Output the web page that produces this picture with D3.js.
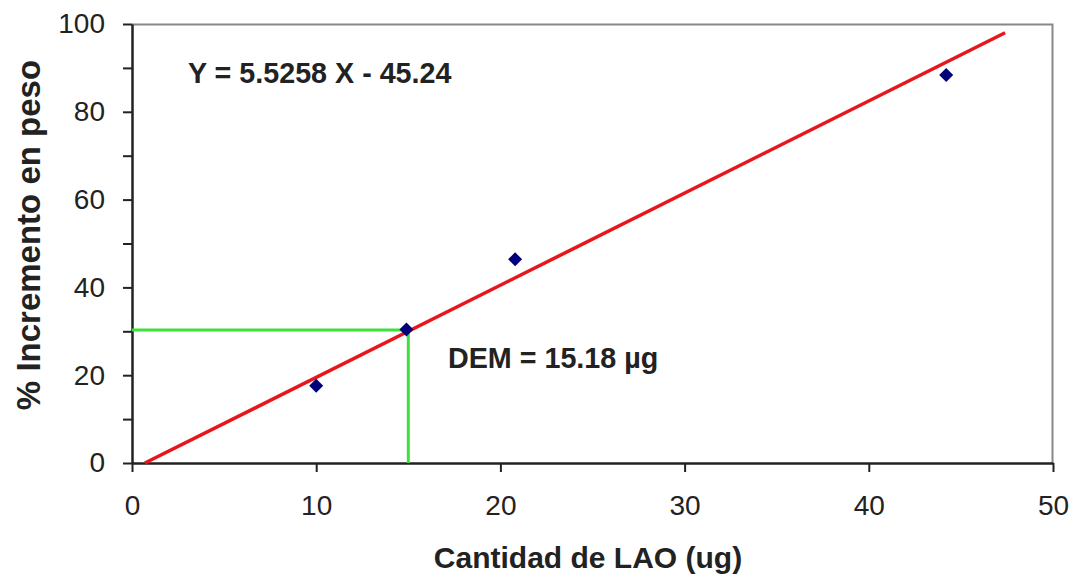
<!DOCTYPE html>
<html>
<head>
<meta charset="utf-8">
<script src="https://cdn.jsdelivr.net/npm/d3@7"></script>
<style>
  body { margin: 0; background: #fff; }
  text { font-family: "Liberation Sans", Arial, sans-serif; fill: #222; }
</style>
</head>
<body>
<div id="chart"></div>
<script>
// data
var cantidad = [10.0, 14.9, 20.8, 44.2];
var incremento = [17.6, 30.4, 46.4, 88.4];
var lineX = [0.7, 47.4];
var lineY = [0, 98.0];
var demX = 15.0;
var demY = 30.3;
var xTicks = [0, 10, 20, 30, 40, 50];
var yTicks = [0, 20, 40, 60, 80, 100];
var yMinor = [10, 30, 50, 70, 90];

var svgWidth = 1076;
var svgHeight = 578;
var margin = { top: 24, right: 23, bottom: 115, left: 132 };
var chart_width = svgWidth - margin.left - margin.right;
var chart_height = svgHeight - margin.top - margin.bottom;

var svg = d3.select("#chart").append("svg")
    .attr("width", svgWidth)
    .attr("height", svgHeight);

var chartGroup = svg.append("g")
    .attr("transform", `translate(${margin.left}, ${margin.top})`);

var xScale = d3.scaleLinear().domain([0, 50]).range([0, chart_width]);
var yScale = d3.scaleLinear().domain([0, 100]).range([chart_height, 0]);

// grey frame top / right
chartGroup.append("path")
    .attr("d", `M0,0.5H${chart_width - 0.5}V${chart_height}`)
    .attr("fill", "none")
    .attr("stroke", "#888")
    .attr("stroke-width", 2);

// minor y ticks
chartGroup.append("g")
    .call(d3.axisLeft(yScale).tickValues(yMinor).tickSize(9).tickFormat(""))
    .call(g => g.select(".domain").remove())
    .selectAll("line").attr("stroke", "#222").attr("stroke-width", 2);

var leftAxis = chartGroup.append("g")
    .call(d3.axisLeft(yScale).tickValues(yTicks).tickSize(9).tickSizeOuter(0).tickPadding(18));

var bottomAxis = chartGroup.append("g")
    .attr("transform", `translate(0, ${chart_height})`)
    .call(d3.axisBottom(xScale).tickValues(xTicks).tickSize(9).tickSizeOuter(0).tickPadding(23));

[leftAxis, bottomAxis].forEach(function(ax) {
    ax.select(".domain").attr("stroke", "#222").attr("stroke-width", 2.5);
    ax.selectAll(".tick line").attr("stroke", "#222").attr("stroke-width", 2);
    ax.selectAll(".tick text")
        .attr("font-size", 28)
        .attr("font-family", "'Liberation Sans', Arial, sans-serif")
        .attr("fill", "#222");
});

// green guide lines
chartGroup.append("path")
    .attr("d", `M0,${yScale(demY)}H${xScale(demX)}V${yScale(0)}`)
    .attr("fill", "none")
    .attr("stroke", "#3ee03a")
    .attr("stroke-width", 3);

// regression line
chartGroup.append("line")
    .attr("x1", xScale(lineX[0]))
    .attr("y1", yScale(lineY[0]))
    .attr("x2", xScale(lineX[1]))
    .attr("y2", yScale(lineY[1]))
    .attr("stroke", "#e8161a")
    .attr("stroke-width", 3.5);

// points
var pts = cantidad.map((c, i) => ({ x: c, y: incremento[i] }));
chartGroup.append("g")
    .selectAll("path")
    .data(pts)
    .enter()
    .append("path")
    .attr("d", "M0,-7L7,0L0,7L-7,0Z")
    .attr("transform", d => `translate(${xScale(d.x)}, ${yScale(d.y)})`)
    .attr("fill", "#00007a");

// annotations
chartGroup.append("text")
    .attr("x", 56)
    .attr("y", 59)
    .attr("font-size", 28.7)
    .attr("font-weight", "bold")
    .text("Y = 5.5258 X - 45.24");

chartGroup.append("text")
    .attr("x", 316)
    .attr("y", 344)
    .attr("font-size", 28.7)
    .attr("font-weight", "bold")
    .text("DEM = 15.18 µg");

// axis titles
svg.append("text")
    .attr("transform", `translate(40, 235) rotate(-90)`)
    .attr("text-anchor", "middle")
    .attr("font-size", 33)
    .attr("font-weight", "bold")
    .text("% Incremento en peso");

svg.append("text")
    .attr("x", 588)
    .attr("y", 568)
    .attr("text-anchor", "middle")
    .attr("font-size", 30)
    .attr("font-weight", "bold")
    .text("Cantidad de LAO (ug)");
</script>
</body>
</html>
